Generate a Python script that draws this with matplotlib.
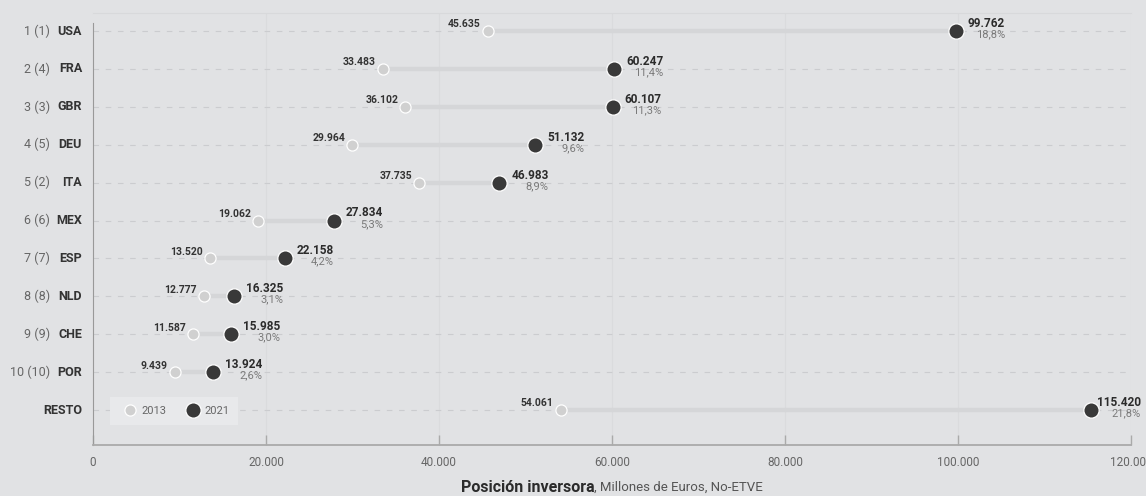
import matplotlib
matplotlib.use('Agg')
import matplotlib.pyplot as plt
from matplotlib.lines import Line2D

plt.rcParams['font.family'] = ['Roboto', 'DejaVu Sans']

countries = ['USA', 'FRA', 'GBR', 'DEU', 'ITA', 'MEX', 'ESP', 'NLD', 'CHE', 'POR', 'RESTO']
ranks = ['1 (1)', '2 (4)', '3 (3)', '4 (5)', '5 (2)', '6 (6)', '7 (7)', '8 (8)', '9 (9)', '10 (10)', '']
values_2013 = [45635, 33483, 36102, 29964, 37735, 19062, 13520, 12777, 11587, 9439, 54061]
values_2021 = [99762, 60247, 60107, 51132, 46983, 27834, 22158, 16325, 15985, 13924, 115420]
shares_2021 = ['18,8%', '11,4%', '11,3%', '9,6%', '8,9%', '5,3%', '4,2%', '3,1%', '3,0%', '2,6%', '21,8%']
x_ticks = [0, 20000, 40000, 60000, 80000, 100000, 120000]

BG = '#e1e2e4'
LIGHT = '#d0d0d0'
DARK = '#393939'


def fmt(v):
    return f'{v:,}'.replace(',', '.')


fig = plt.figure(figsize=(11.46, 4.96), dpi=100, facecolor=BG)
ax = fig.add_axes([93 / 1146, 51 / 496, 1038 / 1146, 432 / 496])
ax.set_facecolor(BG)

ax.set_xlim(0, 120000)
ax.set_ylim(10.92, -0.475)

# vertical grid
for t in x_ticks[1:]:
    ax.axvline(t, color='#dadbdd', lw=0.8, zorder=0)

for i, c in enumerate(countries):
    ax.plot([0, 120000], [i, i], color='#cbcccf', lw=0.8, dashes=(5, 6), zorder=1)
    ax.plot([values_2013[i], values_2021[i]], [i, i], color='#d5d6d8', lw=3.2,
            solid_capstyle='butt', zorder=2)
    ax.plot(values_2013[i], i, 'o', ms=8, mfc=LIGHT, mec='white', mew=0.9, zorder=3)
    ax.plot(values_2021[i], i, 'o', ms=11, mfc=DARK, mec='white', mew=0.9, zorder=4)

    ax.annotate(fmt(values_2013[i]), (values_2013[i], i), xytext=(-5, 4.8),
                textcoords='offset points', ha='right', va='center',
                fontsize=7.5, fontweight='bold', color='#333333')
    # the last value sits near the right edge, keep it inside the figure
    dx = 8.5 if values_2021[i] < 110000 else 4
    t21 = ax.annotate(fmt(values_2021[i]), (values_2021[i], i), xytext=(dx, 5.5),
                      textcoords='offset points', ha='left', va='center',
                      fontsize=8.5, fontweight='bold', color='#2b2b2b')
    ax.annotate(shares_2021[i], xy=(1, 0), xycoords=t21, xytext=(0, 0.5),
                textcoords='offset points', ha='right', va='top',
                fontsize=8, color='#7a7a7a')

    # y labels
    ax.annotate(c, (0, i), xycoords=('axes fraction', 'data'), xytext=(-11, 0),
                textcoords='offset pixels', ha='right', va='center',
                fontsize=9, fontweight='bold', color='#333333')
    if ranks[i]:
        ax.annotate(ranks[i], (0, i), xycoords=('axes fraction', 'data'), xytext=(-43, 0),
                    textcoords='offset pixels', ha='right', va='center',
                    fontsize=9, color='#666666')

ax.set_yticks([])
ax.set_xticks(x_ticks)
ax.set_xticklabels([fmt(t) for t in x_ticks])
ax.tick_params(axis='x', direction='in', length=7, width=1, color='#aaaaaa',
               labelsize=8.5, labelcolor='#666666', pad=8)

ax.spines['right'].set_visible(False)
ax.spines['top'].set_color('#d8d9db')
ax.spines['top'].set_linewidth(0.8)
ax.spines['left'].set_color('#999999')
ax.spines['left'].set_bounds(-0.21, 10.92)
ax.spines['bottom'].set_color('#aaaaaa')
ax.spines['bottom'].set_linewidth(1.3)

handles = [
    Line2D([], [], ls='none', marker='o', ms=8, mfc=LIGHT, mec='white', mew=0.9),
    Line2D([], [], ls='none', marker='o', ms=11, mfc=DARK, mec='white', mew=0.9),
]
leg = ax.legend(handles, ['2013', '2021'], ncol=2, loc='upper left',
                bbox_to_anchor=(0.0164, 0.111), frameon=True, facecolor='#e8e9eb',
                edgecolor='none', fancybox=False, framealpha=1, fontsize=8,
                labelcolor='#666666', handletextpad=0.05, columnspacing=1.35,
                borderpad=0.8, handlelength=2.0, borderaxespad=0)

# x label: bold part + normal part, centered under axes
lab1 = fig.text(0, 9 / 496, 'Posición inversora', fontsize=11.5, fontweight='bold',
                color='#2b2b2b', ha='left', va='center')
lab2 = fig.text(0, 9 / 496, ', Millones de Euros, No-ETVE', fontsize=9.5,
                color='#555555', ha='left', va='center')
fig.canvas.draw()
r = fig.canvas.get_renderer()
w1 = lab1.get_window_extent(r).width
w2 = lab2.get_window_extent(r).width
cx = 612
x0 = cx - (w1 + w2) / 2
lab1.set_x(x0 / 1146)
lab2.set_x((x0 + w1) / 1146)

fig.savefig('out.png', dpi=100, facecolor=BG)
